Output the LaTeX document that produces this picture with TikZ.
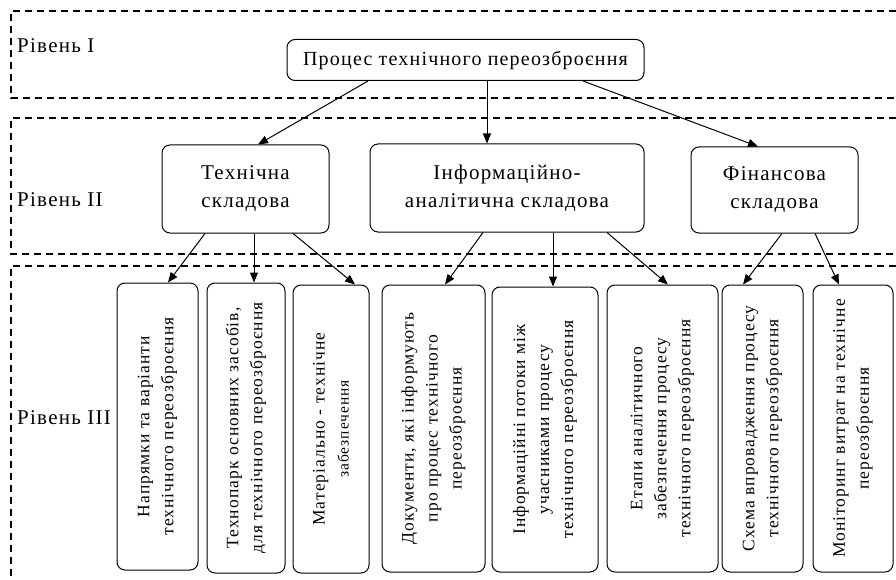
\documentclass[tikz,border=0pt]{standalone}
\usepackage{fontspec}
\setmainfont{Liberation Serif}[LetterSpace=6]
\usetikzlibrary{arrows.meta}
\begin{document}
\begin{tikzpicture}[x=1pt,y=-1pt,
  lvl/.style={draw, line width=1.3pt, dash pattern=on 7pt off 5pt},
  box/.style={draw, rounded corners=8pt, line width=1pt, align=center, inner sep=0pt},
  hbox/.style={box, font=\fontsize{21}{28}\selectfont},
  vbox/.style={box, rotate=90, font=\fontsize{17.5}{24}\selectfont},
  lbl/.style={anchor=west, inner sep=0pt, font=\fontsize{21}{24}\selectfont},
  arr/.style={-{Triangle[length=10pt,width=8pt]}, line width=1pt}]
\useasboundingbox (0,0) rectangle (896,580);
% level frames
\draw[lvl] (896,11) -- (11,11) -- (11,98) -- (896,98);
\draw[lvl] (896,118) -- (11,118) -- (11,254) -- (896,254);
\draw[lvl] (896,266) -- (11,266) -- (11,580);
% level labels
\node[lbl] (l1) at (17,46) {Рівень I};
\node[lbl] (l2) at (17,200) {Рівень II};
\node[lbl] (l3) at (17,418) {Рівень III};
% top
\node[box, minimum width=357pt, minimum height=41pt, font=\fontsize{20}{24}\selectfont] (top) at (465.5,60) {Процес технічного переозброєння};
% level II
\node[hbox, minimum width=167pt, minimum height=88pt] (tech) at (245.5,189) {Технічна\\складова};
\node[hbox, minimum width=274pt, minimum height=88pt] (info) at (507,188) {Інформаційно-\\аналітична складова};
\node[hbox, minimum width=167pt, minimum height=86pt] (fin) at (774.5,190) {Фінансова\\складова};
% level III
\node[vbox, minimum width=287pt, minimum height=81pt] (b1) at (157.5,426.5) {Напрямки та варіанти\\технічного переозброєння};
\node[vbox, minimum width=290pt, minimum height=78pt] (b2) at (246,428) {Технопарк основних засобів,\\для технічного переозброєння};
\node[vbox, minimum width=288pt, minimum height=76pt] (b3) at (331,429) {Матеріально - технічне\\{\fontsize{15.5}{22}\selectfont забезпечення}};
\node[vbox, minimum width=287pt, minimum height=103pt] (b4) at (433.5,428.5) {Документи, які інформують\\про процес технічного\\переозброєння};
\node[vbox, minimum width=285pt, minimum height=106pt] (b5) at (545,429.5) {Інформаційні потоки між\\учасниками процесу\\технічного переозброєння};
\node[vbox, minimum width=287pt, minimum height=111pt] (b6) at (662.5,428.5) {Етапи аналітичного\\забезпечення процесу\\технічного переозброєння};
\node[vbox, minimum width=287pt, minimum height=81pt] (b7) at (762.5,428.5) {Схема впровадження процесу\\технічного переозброєння};
\node[vbox, minimum width=287pt, minimum height=80pt] (b8) at (853,428.5) {Моніторинг витрат на технічне\\переозброєння};
% arrows level I -> II
\draw[arr] ([xshift=-97.5pt]top.south) -- ([xshift=12.5pt]tech.north);
\draw[arr] ([xshift=21.5pt]top.south) -- ([xshift=-20pt]info.north);
\draw[arr] ([xshift=117.5pt]top.south) -- ([xshift=-16.5pt]fin.north);
% arrows level II -> III
\draw[arr] ([xshift=-40.5pt]tech.south) -- ([xshift=10.5pt]b1.east);
\draw[arr] ([xshift=8.5pt]tech.south) -- ([xshift=8pt]b2.east);
\draw[arr] ([xshift=47.5pt]tech.south) -- ([xshift=24pt]b3.east);
\draw[arr] ([xshift=-24pt]info.south) -- ([xshift=11.5pt]b4.east);
\draw[arr] ([xshift=46pt]info.south) -- ([xshift=8pt]b5.east);
\draw[arr] ([xshift=100pt]info.south) -- ([xshift=5.5pt]b6.east);
\draw[arr] ([xshift=7.5pt]fin.south) -- ([xshift=-19.5pt]b7.east);
\draw[arr] ([xshift=40.5pt]fin.south) -- ([xshift=-14pt]b8.east);
\end{tikzpicture}
\end{document}
